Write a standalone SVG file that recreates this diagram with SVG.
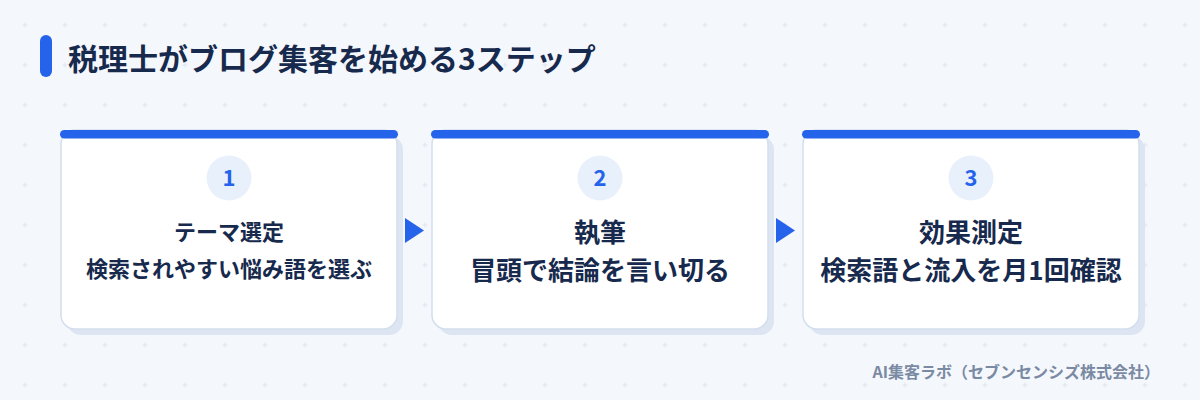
<svg xmlns="http://www.w3.org/2000/svg" width="1200" height="400" viewBox="0 0 1200 400">
<defs>
<pattern id="grid" x="0" y="0" width="40" height="40" patternUnits="userSpaceOnUse">
<path d="M22.5 25h5M25 22.5v5" stroke="#dfe5ef" stroke-width="1"/>
</pattern>
<style>
.t{font-family:"Noto Sans CJK JP","Noto Sans",sans-serif;font-weight:700;fill:#172a4d;text-anchor:middle}
.num{font-family:"Noto Sans CJK JP","Noto Sans",sans-serif;font-weight:700;fill:#2563eb;text-anchor:middle;font-size:22px}
.card{fill:#ffffff;stroke:#d3deee;stroke-width:1.5}
.shadow{fill:#dce5f1}
.bar{fill:#2563eb}
.circ{fill:#e8f0fb}
.arrow{fill:#2563eb}
</style>
</defs>
<rect width="1200" height="400" fill="#f4f7fc"/>
<rect width="1200" height="400" fill="url(#grid)"/>
<g id="title">
<rect x="40" y="35" width="12" height="42" rx="6" fill="#2563eb"/>
<text x="68" y="70" font-family="'Noto Sans CJK JP','Noto Sans',sans-serif" font-weight="700" font-size="30" fill="#172a4d">税理士がブログ集客を始める3ステップ</text>
</g>
<g id="connectors">
<polygon class="arrow" points="405,218 405,243 424,230.5"/>
<polygon class="arrow" points="776,218 776,243 795,230.5"/>
</g>
<g id="step1">
<rect class="shadow" x="67" y="136" width="336" height="199" rx="14"/>
<rect class="card" x="61" y="130" width="336" height="199" rx="14"/>
<rect class="bar" x="60" y="130" width="338" height="8.5" rx="4.25"/>
<circle class="circ" cx="229" cy="178" r="22.5"/>
<text class="num" x="229" y="186">1</text>
<text class="t" x="229" y="240" font-size="22">テーマ選定</text>
<text class="t" x="229" y="277" font-size="22">検索されやすい悩み語を選ぶ</text>
</g>
<g id="step2">
<rect class="shadow" x="438" y="136" width="336" height="199" rx="14"/>
<rect class="card" x="432" y="130" width="336" height="199" rx="14"/>
<rect class="bar" x="431" y="130" width="338" height="8.5" rx="4.25"/>
<circle class="circ" cx="600" cy="178" r="22.5"/>
<text class="num" x="600" y="186">2</text>
<text class="t" x="600" y="241.5" font-size="26">執筆</text>
<text class="t" x="600" y="280" font-size="26">冒頭で結論を言い切る</text>
</g>
<g id="step3">
<rect class="shadow" x="809" y="136" width="336" height="199" rx="14"/>
<rect class="card" x="803" y="130" width="336" height="199" rx="14"/>
<rect class="bar" x="802" y="130" width="338" height="8.5" rx="4.25"/>
<circle class="circ" cx="971" cy="178" r="22.5"/>
<text class="num" x="971" y="186">3</text>
<text class="t" x="971" y="241.5" font-size="26">効果測定</text>
<text class="t" x="971" y="280" font-size="26">検索語と流入を月1回確認</text>
</g>
<text x="1160" y="378" font-family="'Noto Sans CJK JP','Noto Sans',sans-serif" font-weight="700" font-size="16" fill="#7b8aa3" text-anchor="end">AI集客ラボ（セブンセンシズ株式会社）</text>
</svg>
